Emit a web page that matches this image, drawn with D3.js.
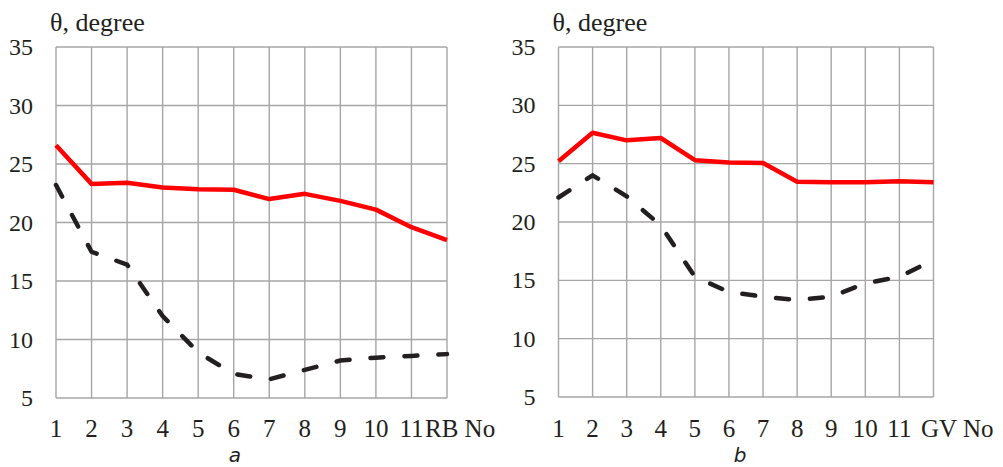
<!DOCTYPE html>
<html>
<head>
<meta charset="utf-8">
<script src="https://cdn.jsdelivr.net/npm/d3@7"></script>
<style>
  body { margin: 0; background: #fff; }
  svg { display: block; }
</style>
</head>
<body>
<script>
// point numbers along the x axis (1..12), only 1..11 are labelled
var points = [1, 2, 3, 4, 5, 6, 7, 8, 9, 10, 11, 12];
var xTickLabels = ["1", "2", "3", "4", "5", "6", "7", "8", "9", "10", "11"];
var yTicks = [5, 10, 15, 20, 25, 30, 35];

// panel a (RB)
var rbRed = [26.6, 23.3, 23.4, 23.0, 22.85, 22.8, 22.0, 22.45, 21.85, 21.1, 19.6, 18.5];
var rbBlack = [23.2, 17.5, 16.4, 12.0, 8.9, 7.05, 6.6, 7.4, 8.2, 8.45, 8.6, 8.75];

// panel b (GV)
var gvRed = [25.2, 27.65, 27.0, 27.2, 25.3, 25.1, 25.05, 23.45, 23.4, 23.4, 23.5, 23.4];
var gvBlack = [22.1, 24.0, 22.2, 19.7, 15.3, 14.0, 13.6, 13.3, 13.6, 14.75, 15.3, 16.75];

var width = 1003;
var height = 467;
var serif = "Liberation Serif";

var svg = d3.select("body")
            .append("svg")
            .attr("width", width)
            .attr("height", height);

var drawPanel = function(p) {
  var x = d3.scaleLinear().domain([1, 12]).range([p.left, p.right]);
  var y = d3.scaleLinear().domain([5, 35]).range([p.bottom, p.top]);
  var g = svg.append("g");

  // grid
  g.selectAll("line.v")
    .data(points)
    .enter()
    .append("line")
    .attr("x1", function(d) { return x(d); })
    .attr("x2", function(d) { return x(d); })
    .attr("y1", y(35))
    .attr("y2", y(5))
    .attr("stroke", "#a6a6a6")
    .attr("stroke-width", 1.4);

  g.selectAll("line.h")
    .data(yTicks)
    .enter()
    .append("line")
    .attr("x1", x(1))
    .attr("x2", x(12))
    .attr("y1", function(d) { return y(d); })
    .attr("y2", function(d) { return y(d); })
    .attr("stroke", "#a6a6a6")
    .attr("stroke-width", 1.4);

  // y tick labels
  g.selectAll("text.y")
    .data(yTicks)
    .enter()
    .append("text")
    .text(function(d) { return d; })
    .attr("x", p.left - 23)
    .attr("y", function(d) { return y(d); })
    .attr("dy", "0.34em")
    .attr("text-anchor", "end")
    .attr("font-family", serif)
    .attr("font-size", "24px")
    .attr("fill", "#231f20");

  // x tick labels
  g.selectAll("text.x")
    .data(xTickLabels)
    .enter()
    .append("text")
    .text(function(d) { return d; })
    .attr("x", function(d, i) { return x(points[i]); })
    .attr("y", 437)
    .attr("text-anchor", "middle")
    .attr("font-family", serif)
    .attr("font-size", "25px")
    .attr("fill", "#231f20");

  g.append("text")
    .text(p.xTitle)
    .attr("x", p.xTitleX)
    .attr("y", 437)
    .attr("font-family", serif)
    .attr("font-size", "25px")
    .attr("fill", "#231f20");

  g.append("text")
    .text("\u03b8, degree")
    .attr("x", p.left - 6)
    .attr("y", 31)
    .attr("font-family", serif)
    .attr("font-size", "26px")
    .attr("fill", "#231f20");

  g.append("text")
    .text(p.letter)
    .attr("x", p.letterX)
    .attr("y", 462)
    .attr("text-anchor", "middle")
    .attr("font-family", "DejaVu Sans")
    .attr("font-style", "italic")
    .attr("font-size", "20px")
    .attr("fill", "#231f20");

  var line = d3.line()
    .x(function(d, i) { return x(points[i]); })
    .y(function(d) { return y(d); });

  g.append("path")
    .datum(p.black)
    .attr("d", line)
    .attr("fill", "none")
    .attr("stroke", "#231f20")
    .attr("stroke-width", 4.5)
    .attr("stroke-linecap", "round")
    .attr("stroke-dasharray", "13,21");

  g.append("path")
    .datum(p.red)
    .attr("d", line)
    .attr("fill", "none")
    .attr("stroke", "#ff0000")
    .attr("stroke-width", 4.5)
    .attr("stroke-linejoin", "round");
};

drawPanel({
  left: 56, right: 447, top: 47, bottom: 398,
  red: rbRed, black: rbBlack,
  xTitle: "RB No", xTitleX: 425,
  letter: "a", letterX: 235
});

drawPanel({
  left: 558.5, right: 933.5, top: 47, bottom: 397,
  red: gvRed, black: gvBlack,
  xTitle: "GV No", xTitleX: 921,
  letter: "b", letterX: 740
});
</script>
</body>
</html>
